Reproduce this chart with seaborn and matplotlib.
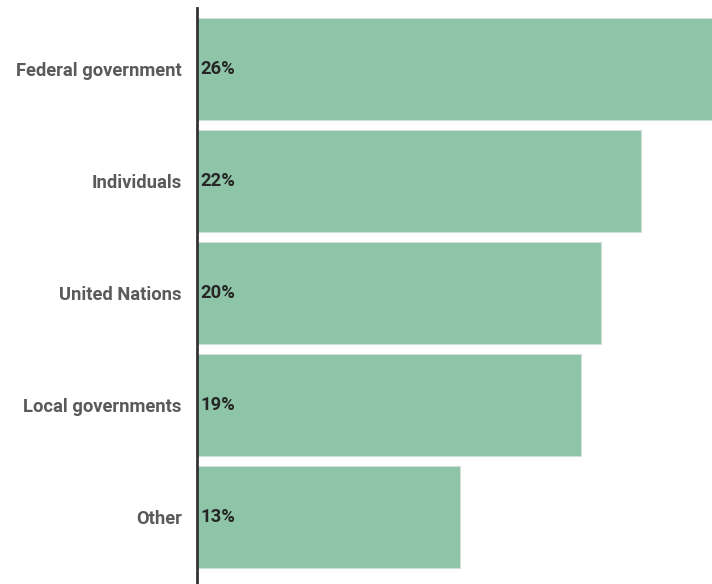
import matplotlib
matplotlib.use("Agg")
import matplotlib.pyplot as plt
import seaborn as sns
import pandas as pd

categories = ["Federal government", "Individuals", "United Nations", "Local governments", "Other"]
shares = [26, 22, 20, 19, 13]
value_labels = ["26%", "22%", "20%", "19%", "13%"]

sns.set_style("white")
plt.rcParams["font.family"] = ["Roboto", "DejaVu Sans"]

df = pd.DataFrame({"source": categories, "share": shares})

fig = plt.figure(figsize=(7.12, 5.84), dpi=100)
ax = fig.add_axes([197 / 712, 0.0, 1 - 197 / 712, 1 - 8 / 584])

sns.barplot(data=df, x="share", y="source", orient="h", color="#8ec4a8",
            saturation=1, width=0.91, edgecolor="#cfe0d6", linewidth=0.8, ax=ax)

ax.set_xlim(0, 25.5)
ax.set_ylim(4.6, -0.545)
ax.set_xlabel("")
ax.set_ylabel("")
ax.set_xticks([])
for s in ["top", "right", "bottom"]:
    ax.spines[s].set_visible(False)
ax.spines["left"].set_color("#333333")
ax.spines["left"].set_linewidth(2)
ax.tick_params(axis="y", length=0, pad=11)
for lbl in ax.get_yticklabels():
    lbl.set_fontsize(13.2)
    lbl.set_fontweight("bold")
    lbl.set_color("#5a5a5a")

for i, txt in enumerate(value_labels):
    ax.annotate(txt, xy=(0, i), xytext=(2.5, 0), textcoords="offset points",
                ha="left", va="center", fontsize=13.2, fontweight="bold",
                color="#262626")

fig.savefig("out.png", dpi=100)
